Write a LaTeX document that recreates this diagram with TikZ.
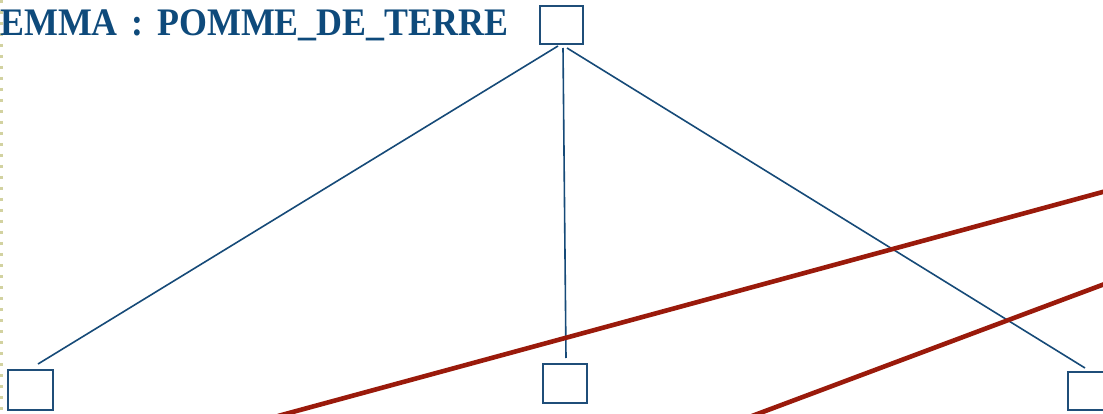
\documentclass[tikz,border=0pt]{standalone}
\usepackage{fontspec}
\setmainfont{Liberation Serif}
\begin{document}
\begin{tikzpicture}[x=1pt,y=-1pt,
  box/.style={draw=boxblue,line width=1.8pt,inner sep=0pt},
  link/.style={draw=lineblue,line width=1.6pt},
  redline/.style={draw=darkred,line width=4.6pt}]
\definecolor{boxblue}{HTML}{1F4E79}
\definecolor{lineblue}{HTML}{164A78}
\definecolor{darkred}{HTML}{9A1A0B}
\definecolor{titleblue}{HTML}{0E4A7B}
\definecolor{dotcol}{HTML}{D2D2A0}
\useasboundingbox (0,0) rectangle (1103,414);
\clip (0,0) rectangle (1103,414);
\fill[white] (0,0) rectangle (1103,414);
% left dotted border
\draw[dotcol,line width=3pt,dash pattern=on 3pt off 8pt] (1.5,0) -- (1.5,414);
% title
\node[anchor=base west,inner sep=0pt,text=titleblue,font=\bfseries\fontsize{39}{44}\selectfont] (title) at (0,36) {\scalebox{0.92}[1]{EMMA\hspace{15pt}:\hspace{15pt}POMME\_DE\_TERRE}};
% boxes
\node[box,minimum width=43pt,minimum height=38pt] (top) at (561.5,25) {};
\node[box,minimum width=45pt,minimum height=40pt] (bl) at (30.5,390) {};
\node[box,minimum width=44pt,minimum height=39pt] (bm) at (565,383.5) {};
\node[box,minimum width=44pt,minimum height=38pt] (br) at (1090,391) {};
% connector endpoints
\coordinate (t1) at (558,46);
\coordinate (t2) at (563,48);
\coordinate (t3) at (567,48);
\coordinate (e1) at (38,364);
\coordinate (e2) at (566,358);
\coordinate (e3) at (1085,368);
\draw[link] (t1) -- (e1);
\draw[link] (t2) -- (e2);
\draw[link] (t3) -- (e3);
% red lines
\coordinate (r1a) at (278,416);
\coordinate (r1b) at (1110,190);
\coordinate (r2a) at (752,416);
\coordinate (r2b) at (1110,282);
\draw[redline] (r1a) -- (r1b);
\draw[redline] (r2a) -- (r2b);
\end{tikzpicture}
\end{document}
